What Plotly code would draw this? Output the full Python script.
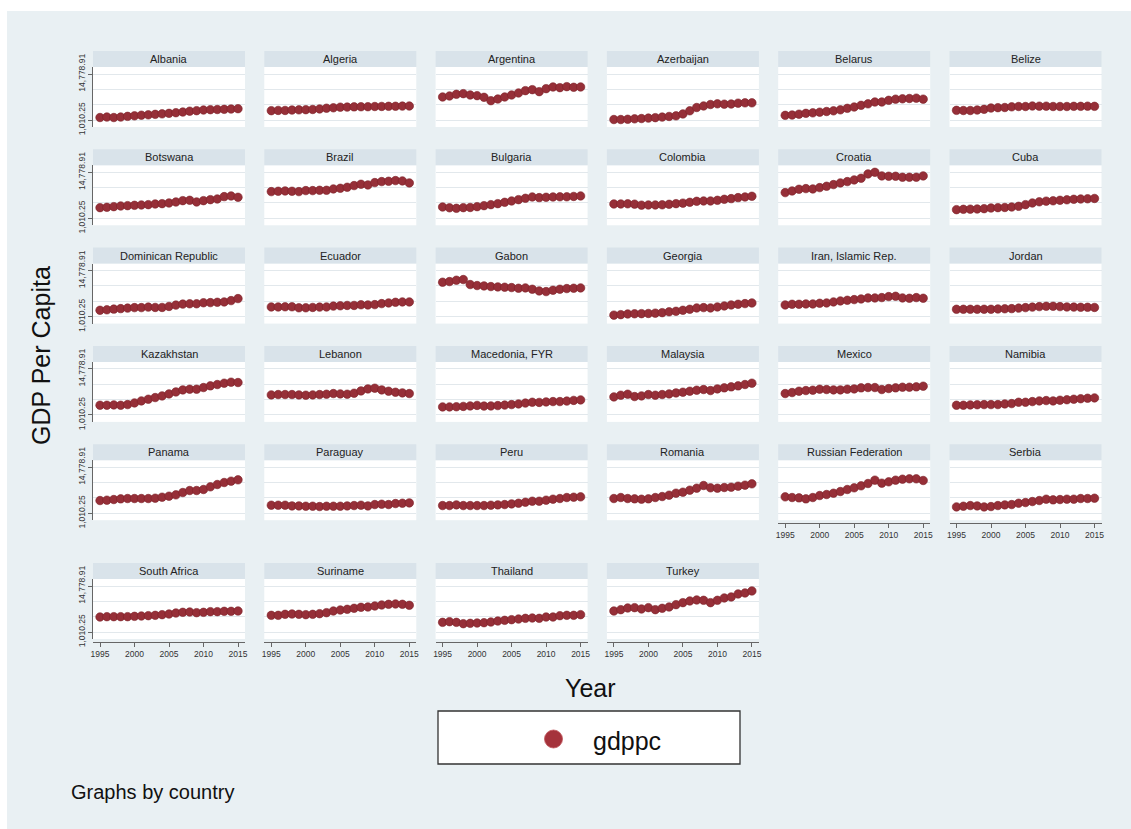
import plotly.graph_objects as go

W, H = 1131, 829

years = list(range(1995, 2016))
countries = ["Albania", "Algeria", "Argentina", "Azerbaijan", "Belarus", "Belize",
             "Botswana", "Brazil", "Bulgaria", "Colombia", "Croatia", "Cuba",
             "Dominican Republic", "Ecuador", "Gabon", "Georgia", "Iran, Islamic Rep.", "Jordan",
             "Kazakhstan", "Lebanon", "Macedonia, FYR", "Malaysia", "Mexico", "Namibia",
             "Panama", "Paraguay", "Peru", "Romania", "Russian Federation", "Serbia",
             "South Africa", "Suriname", "Thailand", "Turkey"]

albania = [1750, 1900, 1750, 1900, 2100, 2250, 2450, 2550, 2700, 2850, 3000, 3200, 3400, 3650, 3800, 4000, 4100, 4150, 4200, 4300, 4400]
algeria = [3800, 3880, 3870, 3990, 4050, 4100, 4160, 4320, 4540, 4660, 4850, 4870, 4940, 4980, 4990, 5050, 5070, 5110, 5130, 5170, 5200]
argentina = [7900, 8200, 8700, 8900, 8500, 8300, 7800, 6800, 7300, 7900, 8500, 9100, 9800, 10100, 9500, 10400, 10900, 10700, 11000, 10800, 10900]
azerbaijan = [1150, 1150, 1230, 1350, 1450, 1580, 1720, 1880, 2070, 2250, 2830, 3770, 4750, 5220, 5650, 5850, 5750, 5800, 6050, 6150, 6150]
belarus = [2400, 2500, 2750, 3000, 3150, 3350, 3550, 3750, 4050, 4500, 4900, 5400, 5850, 6400, 6400, 6900, 7250, 7350, 7450, 7550, 7250]
belize = [3900, 3850, 3850, 4000, 4200, 4600, 4700, 4750, 4950, 5050, 5050, 5200, 5150, 5150, 5050, 5050, 5050, 5100, 5100, 5150, 5100]
botswana = [4200, 4300, 4500, 4700, 4800, 4900, 5000, 5100, 5300, 5400, 5600, 5900, 6300, 6400, 5900, 6300, 6600, 6800, 7500, 7700, 7300]
brazil = [9000, 9100, 9200, 9100, 9000, 9300, 9300, 9400, 9400, 9800, 10000, 10300, 10800, 11200, 11000, 11700, 12000, 12100, 12300, 12200, 11600]
bulgaria = [4400, 4150, 4000, 4200, 4250, 4500, 4800, 5100, 5400, 5800, 6200, 6600, 7000, 7400, 7200, 7300, 7400, 7450, 7450, 7550, 7700]
colombia = [5300, 5300, 5350, 5250, 4950, 5000, 5000, 5050, 5200, 5400, 5550, 5800, 6100, 6200, 6200, 6400, 6700, 6900, 7200, 7400, 7600]
croatia = [8700, 9200, 9700, 9900, 9800, 10200, 10600, 11100, 11600, 12000, 12500, 13000, 14300, 14778.91, 13700, 13600, 13600, 13300, 13300, 13300, 13700]
cuba = [3600, 3700, 3750, 3800, 3900, 4100, 4200, 4250, 4400, 4600, 5100, 5600, 5950, 6150, 6250, 6400, 6550, 6700, 6800, 6850, 6950]
dominican = [2900, 3050, 3250, 3400, 3550, 3700, 3700, 3850, 3750, 3750, 4050, 4450, 4750, 4850, 4850, 5150, 5200, 5300, 5400, 5800, 6400]
ecuador = [3900, 3900, 3950, 3950, 3650, 3650, 3750, 3850, 3900, 4150, 4250, 4350, 4350, 4550, 4500, 4600, 4900, 5100, 5300, 5400, 5400]
gabon = [11300, 11500, 11900, 12100, 10600, 10300, 10200, 10000, 9900, 9800, 9700, 9500, 9600, 9200, 8700, 8500, 8900, 9200, 9400, 9500, 9600]
georgia = [1450, 1600, 1800, 1850, 1900, 1950, 2050, 2200, 2450, 2600, 2900, 3200, 3600, 3700, 3600, 3900, 4200, 4500, 4700, 4900, 5100]
iran = [4500, 4700, 4700, 4800, 4800, 5000, 5100, 5400, 5700, 5900, 6100, 6300, 6600, 6600, 6700, 7000, 7100, 6600, 6500, 6700, 6500]
jordan = [3200, 3200, 3200, 3200, 3200, 3200, 3300, 3350, 3400, 3550, 3700, 3850, 4000, 4100, 4100, 4000, 3900, 3850, 3800, 3800, 3750]
kazakhstan = [3900, 3900, 4000, 3900, 4100, 4600, 5200, 5700, 6200, 6700, 7300, 7900, 8500, 8700, 8700, 9200, 9700, 10100, 10500, 10800, 10700]
lebanon = [7000, 7100, 7100, 7100, 7000, 6900, 7000, 7100, 7200, 7400, 7300, 7200, 7500, 8200, 8800, 9000, 8500, 8100, 7800, 7600, 7400]
macedonia = [3400, 3400, 3450, 3550, 3700, 3850, 3650, 3700, 3800, 3950, 4100, 4300, 4550, 4800, 4750, 4900, 5000, 5000, 5150, 5350, 5500]
malaysia = [6400, 6900, 7200, 6500, 6700, 7100, 6900, 7100, 7300, 7600, 7800, 8100, 8400, 8600, 8300, 8800, 9100, 9400, 9700, 10100, 10500]
mexico = [7400, 7700, 8100, 8300, 8400, 8700, 8600, 8500, 8500, 8700, 8800, 9100, 9200, 9200, 8600, 8900, 9100, 9300, 9300, 9400, 9600]
namibia = [3900, 3900, 4000, 4050, 4100, 4100, 4100, 4300, 4400, 4800, 4800, 5000, 5200, 5300, 5200, 5400, 5550, 5700, 5850, 6000, 6100]
panama = [4800, 4900, 5100, 5300, 5400, 5400, 5400, 5400, 5500, 5800, 6100, 6500, 7200, 7800, 7800, 8100, 8900, 9600, 10200, 10600, 11000]
paraguay = [3400, 3400, 3400, 3200, 3200, 3100, 3100, 3000, 3100, 3100, 3100, 3200, 3300, 3400, 3200, 3600, 3700, 3600, 3900, 4000, 4100]
peru = [3300, 3300, 3500, 3300, 3300, 3300, 3300, 3400, 3500, 3600, 3800, 4000, 4300, 4600, 4600, 4900, 5200, 5400, 5700, 5800, 5900]
romania = [5400, 5700, 5400, 5300, 5200, 5300, 5700, 6000, 6400, 7000, 7300, 7900, 8500, 9300, 8600, 8500, 8700, 8800, 9100, 9400, 9800]
russia = [5900, 5700, 5600, 5300, 5700, 6300, 6600, 7000, 7500, 8100, 8600, 9200, 9900, 10900, 10000, 10400, 10900, 11200, 11300, 11300, 10800]
serbia = [2900, 3100, 3300, 3200, 2900, 3000, 3300, 3500, 3600, 4000, 4200, 4500, 4800, 5200, 5000, 5100, 5200, 5200, 5400, 5400, 5500]
south_africa = [5500, 5600, 5600, 5600, 5600, 5700, 5800, 5900, 6000, 6200, 6400, 6700, 6900, 7000, 6800, 6900, 7100, 7100, 7200, 7200, 7300]
suriname = [6000, 6000, 6300, 6400, 6300, 6200, 6300, 6500, 6800, 7300, 7600, 7800, 8100, 8400, 8500, 8800, 9100, 9300, 9400, 9300, 9000]
thailand = [3900, 4100, 3900, 3500, 3600, 3700, 3800, 4000, 4300, 4500, 4700, 4900, 5100, 5200, 5100, 5500, 5500, 5900, 6000, 6000, 6200]
turkey = [7300, 7700, 8200, 8300, 7900, 8300, 7700, 8100, 8500, 9200, 9800, 10300, 10600, 10500, 9800, 10500, 11200, 11500, 12400, 12700, 13300]

series = [albania, algeria, argentina, azerbaijan, belarus, belize,
          botswana, brazil, bulgaria, colombia, croatia, cuba,
          dominican, ecuador, gabon, georgia, iran, jordan,
          kazakhstan, lebanon, macedonia, malaysia, mexico, namibia,
          panama, paraguay, peru, romania, russia, serbia,
          south_africa, suriname, thailand, turkey]

y_tick_vals = [1010.25, 14778.91]
y_tick_text = ["1,010.25", "14,778.91"]
x_tick_vals = [1995, 2000, 2005, 2010, 2015]

# ---- styling / geometry ----
BG = "#e9f0f3"
STRIP = "#d9e3ea"
MARK = "#962f38"
GRID = "#e2e8ec"
AXC = "#666666"
FONT = "Liberation Sans, Arial, Helvetica, sans-serif"

COL_X0, COL_PITCH, PANEL_W = 93, 171.3, 152
ROW_Y0, ROW_PITCH = 51, 98.3
ROW6_Y = 563
STRIP_H, PLOT_H = 16, 60
INSET = 7  # px from plot edge to extreme ticks


def px(x):
    return x / W


def py(y):
    return 1 - y / H


yspan = (y_tick_vals[1] - y_tick_vals[0]) / (PLOT_H - 2 * INSET)
y_range = [y_tick_vals[0] - INSET * yspan, y_tick_vals[1] + INSET * yspan]
xspan = 20 / (PANEL_W - 2 * INSET)
x_range = [1995 - INSET * xspan, 2015 + INSET * xspan]
minor_grid = [y_tick_vals[0] + (y_tick_vals[1] - y_tick_vals[0]) * k / 3 for k in (1, 2)]

fig = go.Figure()
layout = dict(
    template="none",
    width=W, height=H, margin=dict(l=0, r=0, t=0, b=0, autoexpand=False), autosize=False,
    paper_bgcolor=BG, plot_bgcolor="white", showlegend=False,
    font=dict(family=FONT, color="#222"),
)
shapes = [
    dict(type="rect", xref="paper", yref="paper", x0=0, x1=px(7), y0=0, y1=1,
         fillcolor="white", line=dict(width=0), layer="above"),
    dict(type="rect", xref="paper", yref="paper", x0=0, x1=1, y0=py(11), y1=1,
         fillcolor="white", line=dict(width=0), layer="above"),
]
annotations = []

n = len(countries)
for i, (name, vals) in enumerate(zip(countries, series)):
    r, c = divmod(i, 6)
    top = ROW_Y0 + r * ROW_PITCH if r < 5 else ROW6_Y
    x0 = COL_X0 + c * COL_PITCH
    x1 = x0 + PANEL_W
    ptop = top + STRIP_H
    pbot = ptop + PLOT_H
    sfx = "" if i == 0 else str(i + 1)
    has_x = (i + 6) >= n
    has_y = c == 0

    fig.add_trace(go.Scatter(
        x=years, y=vals, mode="markers", xaxis="x" + sfx, yaxis="y" + sfx,
        marker=dict(size=8.5, color=MARK, line=dict(color="#7c2229", width=0.6)),
        hoverinfo="x+y", cliponaxis=False,
    ))

    xa = dict(domain=[px(x0), px(x1)], range=x_range, showgrid=False, zeroline=False,
              anchor="free" if has_x else "y" + sfx, fixedrange=True, automargin=False)
    if has_x:
        xa.update(position=py(pbot + 3), showline=True, linecolor=AXC, linewidth=1,
                  ticks="outside", ticklen=4, tickcolor=AXC, tickvals=x_tick_vals,
                  tickfont=dict(size=8.5, color="#333"))
    else:
        xa.update(showticklabels=False, ticks="", showline=False)
    ya = dict(domain=[py(pbot), py(ptop)], range=y_range, zeroline=False,
              anchor="x" + sfx, tickvals=y_tick_vals, showgrid=True, gridcolor=GRID,
              gridwidth=1, fixedrange=True, automargin=False,
              minor=dict(tickmode="array", tickvals=minor_grid, showgrid=True,
                         gridcolor=GRID, gridwidth=1, ticks=""))
    if has_y:
        ya.update(showline=True, linecolor=AXC, linewidth=1, ticks="outside", ticklen=4,
                  tickcolor=AXC, ticktext=y_tick_text, tickangle=-90,
                  tickfont=dict(size=8.5, color="#333"))
    else:
        ya.update(showticklabels=False, ticks="", showline=False)
    layout["xaxis" + sfx] = xa
    layout["yaxis" + sfx] = ya

    shapes.append(dict(type="rect", xref="paper", yref="paper", x0=px(x0), x1=px(x1),
                       y0=py(ptop), y1=py(top), fillcolor=STRIP, line=dict(width=0)))
    annotations.append(dict(text=name, xref="paper", yref="paper",
                            x=px((x0 + x1) / 2), y=py(top + STRIP_H / 2),
                            showarrow=False, xanchor="center", yanchor="middle",
                            font=dict(size=11, color="#222")))

# axis titles and note
annotations.append(dict(text="GDP Per Capita", xref="paper", yref="paper", x=px(41), y=py(355),
                        textangle=-90, showarrow=False, xanchor="center", yanchor="middle",
                        font=dict(size=25, color="#111")))
annotations.append(dict(text="Year", xref="paper", yref="paper", x=px(590), y=py(688),
                        showarrow=False, xanchor="center", yanchor="middle",
                        font=dict(size=25, color="#111")))
annotations.append(dict(text="Graphs by country", xref="paper", yref="paper", x=px(69), y=py(792),
                        showarrow=False, xanchor="left", yanchor="middle",
                        font=dict(size=20, color="#111")))

# legend box
shapes.append(dict(type="rect", xref="paper", yref="paper", x0=px(438), x1=px(740),
                   y0=py(764), y1=py(711), fillcolor="white",
                   line=dict(color="#333", width=1.3)))
shapes.append(dict(type="circle", xref="paper", yref="paper", x0=px(544.5), x1=px(562.5),
                   y0=py(748), y1=py(730), fillcolor="#a5323b",
                   line=dict(color="#c0555c", width=0.8)))
annotations.append(dict(text="gdppc", xref="paper", yref="paper", x=px(591), y=py(741),
                        showarrow=False, xanchor="left", yanchor="middle",
                        font=dict(size=25, color="#111")))

layout["shapes"] = shapes
layout["annotations"] = annotations
fig.update_layout(**layout)
fig.write_html("out.html")
